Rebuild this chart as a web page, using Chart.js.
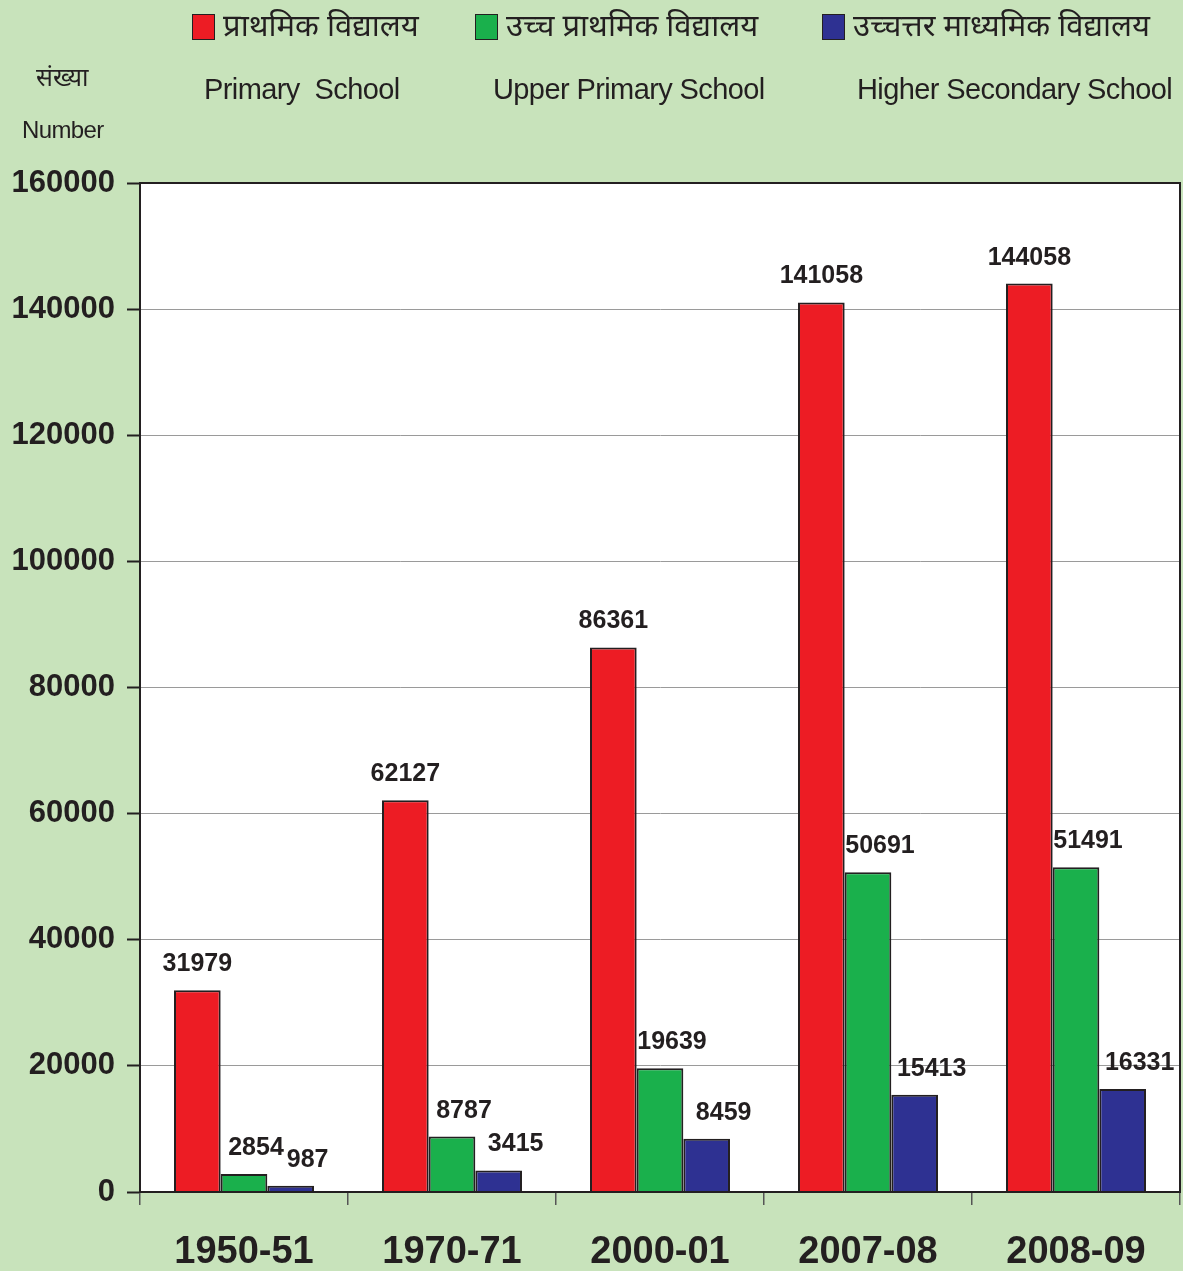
<!DOCTYPE html>
<html>
<head>
<meta charset="utf-8">
<script src="https://cdn.jsdelivr.net/npm/chart.js@4.4.1/dist/chart.umd.min.js"></script>
<style>
  body { margin: 0; background: #c8e3bb; font-family: "Liberation Sans", Arial, sans-serif; color: #231f20; }
  #wrap { position: relative; width: 1183px; height: 1271px; }
  #chart { position: absolute; left: 0; top: 0; }
  .lbl { position: absolute; white-space: pre; line-height: 1; }
  .hi { font-family: "Noto Sans Devanagari", "Lohit Devanagari", "Noto Sans", sans-serif; font-size: 31px; }
  .en { font-size: 29px; letter-spacing: -0.6px; }
  .sw { position: absolute; width: 21px; height: 24px; border: 1.5px solid #231f20; }
</style>
</head>
<body>
<div id="wrap">
  <canvas id="chart" width="1183" height="1271"></canvas>
</div>
<script>
const years = ['1950-51', '1970-71', '2000-01', '2007-08', '2008-09'];
const primary = [31979, 62127, 86361, 141058, 144058];
const upperPrimary = [2854, 8787, 19639, 50691, 51491];
const higherSecondary = [987, 3415, 8459, 15413, 16331];
const hindiNames = ['प्राथमिक विद्यालय', 'उच्च प्राथमिक विद्यालय', 'उच्चत्तर माध्यमिक विद्यालय'];
const englishNames = ['Primary  School', 'Upper Primary School', 'Higher Secondary School'];
const colors = ['#ed1c24', '#1ab04c', '#2e3192'];

// legend, drawn as html text
const wrap = document.getElementById('wrap');
const swX = [192, 475, 822];
const enX = [204, 493, 857];
hindiNames.forEach((name, i) => {
  const sw = document.createElement('div');
  sw.className = 'sw';
  sw.style.left = swX[i] + 'px';
  sw.style.top = '14px';
  sw.style.background = colors[i];
  wrap.appendChild(sw);
  const hi = document.createElement('div');
  hi.className = 'lbl hi';
  hi.textContent = name;
  hi.style.left = (swX[i] + 31) + 'px';
  hi.style.top = '13px';
  wrap.appendChild(hi);
  const en = document.createElement('div');
  en.className = 'lbl en';
  en.textContent = englishNames[i];
  en.style.left = enX[i] + 'px';
  en.style.top = '75px';
  wrap.appendChild(en);
});
const t1 = document.createElement('div');
t1.className = 'lbl hi';
t1.style.fontSize = '25px';
t1.textContent = 'संख्या';
t1.style.left = '36px'; t1.style.top = '68px';
wrap.appendChild(t1);
const t2 = document.createElement('div');
t2.className = 'lbl en';
t2.style.fontSize = '24px';
t2.textContent = 'Number';
t2.style.left = '22px'; t2.style.top = '118px';
wrap.appendChild(t2);

const labelShift = [0, 12, 17];

const plotBg = {
  id: 'plotBg',
  beforeDraw(chart) {
    const { ctx, chartArea: a } = chart;
    ctx.save();
    ctx.fillStyle = '#ffffff';
    ctx.fillRect(a.left, a.top, a.right - a.left, a.bottom - a.top);
    ctx.restore();
  },
  afterDraw(chart) {
    const { ctx, chartArea: a } = chart;
    ctx.save();
    ctx.strokeStyle = '#231f20';
    ctx.lineWidth = 2;
    ctx.strokeRect(a.left, a.top, a.right - a.left, a.bottom - a.top);
    ctx.restore();
  }
};

const valueLabels = {
  id: 'valueLabels',
  afterDatasetsDraw(chart) {
    const ctx = chart.ctx;
    ctx.save();
    ctx.font = 'bold 25px "Liberation Sans", Arial, sans-serif';
    ctx.fillStyle = '#231f20';
    ctx.textAlign = 'center';
    ctx.textBaseline = 'alphabetic';
    chart.data.datasets.forEach((ds, i) => {
      chart.getDatasetMeta(i).data.forEach((bar, j) => {
        ctx.fillText(ds.data[j], bar.x + labelShift[i], bar.y - 19);
      });
    });
    ctx.restore();
  }
};

new Chart(document.getElementById('chart'), {
  type: 'bar',
  data: {
    labels: years,
    datasets: [
      { label: englishNames[0], data: primary, backgroundColor: colors[0] },
      { label: englishNames[1], data: upperPrimary, backgroundColor: colors[1] },
      { label: englishNames[2], data: higherSecondary, backgroundColor: colors[2] },
    ].map(d => Object.assign(d, { borderColor: '#231f20', borderWidth: 2, categoryPercentage: 0.673, barPercentage: 1 }))
  },
  options: {
    responsive: false,
    animation: false,
    layout: { padding: { top: 183, right: 3, left: 0, bottom: 0 } },
    plugins: { legend: { display: false }, tooltip: { enabled: false } },
    scales: {
      x: {
        afterFit: s => { s.height = 79; },
        grid: { drawOnChartArea: false, offset: true, tickLength: 13, color: '#555', lineWidth: 1.5 },
        border: { color: '#231f20', width: 2 },
        ticks: { color: '#231f20', font: { size: 38, weight: 'bold', family: '"Liberation Sans", Arial, sans-serif' }, padding: 25 }
      },
      y: {
        min: 0, max: 160000,
        afterFit: s => { s.width = 140; },
        grid: { color: '#9a9a9a', lineWidth: 1, tickLength: 13, tickColor: '#231f20', tickWidth: 2 },
        border: { color: '#231f20', width: 2 },
        ticks: {
          stepSize: 20000, color: '#231f20', padding: 12,
          callback: v => String(v),
          font: { size: 31, weight: 'bold', family: '"Liberation Sans", Arial, sans-serif' }
        }
      }
    }
  },
  plugins: [plotBg, valueLabels]
});
</script>
</body>
</html>
